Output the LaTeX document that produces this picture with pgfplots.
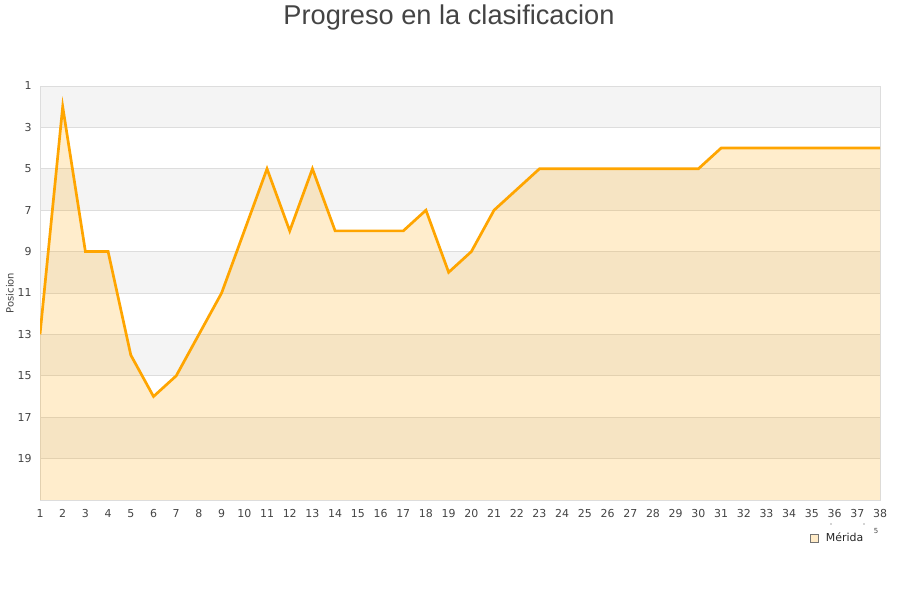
\documentclass[border=0pt]{standalone}
\usepackage{pgfplots}
\pgfplotsset{compat=1.18}
\usepgfplotslibrary{fillbetween}
\usepackage{pgfplotstable}
\usepackage{fontspec}
\setmainfont{DejaVu Sans}
\newfontfamily\titlefont{Liberation Sans}
\definecolor{lineor}{HTML}{FFA500}
\definecolor{band}{HTML}{F4F4F4}
\definecolor{gridc}{HTML}{DDDDDD}
\definecolor{txt}{HTML}{444444}
\pgfplotstableread{
x y
1 13
2 2
3 9
4 9
5 14
6 16
7 15
8 13
9 11
10 8
11 5
12 8
13 5
14 8
15 8
16 8
17 8
18 7
19 10
20 9
21 7
22 6
23 5
24 5
25 5
26 5
27 5
28 5
29 5
30 5
31 4
32 4
33 4
34 4
35 4
36 4
37 4
38 4
}\data
\begin{document}
\begin{tikzpicture}
\path (0bp,0bp) rectangle (900bp,600bp);
\node[anchor=base, text=txt] at (449bp,575bp) {\titlefont\fontsize{27.3}{31}\selectfont Progreso en la clasificacion};
\node[rotate=90, text=txt] at (10bp,307bp) {\fontsize{10}{12}\selectfont Posicion};
\begin{axis}[
  set layers,
  at={(40bp,100bp)}, anchor=south west,
  scale only axis, width=840bp, height=414bp,
  xmin=1, xmax=38, ymin=1, ymax=21, y dir=reverse,
  xtick={1,...,38}, ytick={1,3,...,19},
  major tick length=0pt, tick style={draw=none},
  ymajorgrids, grid style={gridc, line width=0.8bp},
  axis line style={gridc, line width=0.8bp},
  ticklabel style={font=\fontsize{11}{13}\selectfont, text=txt},
  /pgf/number format/assume math mode=true,
  xticklabel style={yshift=-6bp},
  yticklabel style={xshift=-5bp},
  legend style={at={(0.917,-0.092)}, anchor=west, draw=none, fill=none,
    font=\fontsize{11}{13}\selectfont, text=black!85, inner sep=0pt, column sep=5bp},
  legend cell align=left,
]
\addplot[name path=base, draw=none, forget plot] coordinates {(1,21) (38,21)};
\addplot[name path=main, lineor, line width=2.7bp, no marks,
  legend image code/.code={\draw[gray!90!black, line width=0.5bp, fill=lineor!22] (0bp,-4bp) rectangle (8bp,4bp);}]
  table {\data};
\addlegendentry{Mérida}
\addplot[fill=lineor, fill opacity=0.2, draw=none, forget plot] fill between[of=main and base];
\begin{pgfonlayer}{axis background}
\fill[band] (axis cs:1,1) rectangle (axis cs:38,3);
\fill[band] (axis cs:1,5) rectangle (axis cs:38,7);
\fill[band] (axis cs:1,9) rectangle (axis cs:38,11);
\fill[band] (axis cs:1,13) rectangle (axis cs:38,15);
\fill[band] (axis cs:1,17) rectangle (axis cs:38,19);
\end{pgfonlayer}
\end{axis}
\node[text=txt] at (876bp,69bp) {\fontsize{7}{8}\selectfont 5};
\fill[txt] (831bp,76bp) circle (0.6bp);
\fill[txt] (864bp,76bp) circle (0.6bp);
\end{tikzpicture}
\end{document}
